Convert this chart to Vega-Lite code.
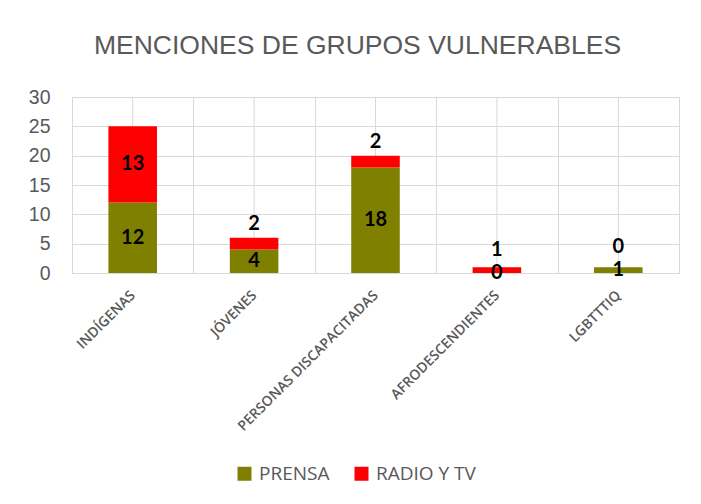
{
  "$schema": "https://vega.github.io/schema/vega-lite/v6.json",
  "width": 607,
  "height": 176,
  "autosize": "none",
  "padding": {"left": 72, "top": 97, "right": 22, "bottom": 231},
  "background": "white",
  "config": {
    "axisY": {
      "title": null,
      "values": [0, 5, 10, 15, 20, 25, 30],
      "labelOverlap": false,
      "grid": true,
      "gridColor": "#d9d9d9",
      "gridWidth": 1,
      "domain": false,
      "ticks": false,
      "labelPadding": 22,
      "labelFont": "Liberation Sans",
      "labelFontSize": 19.5,
      "labelColor": "#595959"
    }
  },
  "title": {
    "text": "MENCIONES DE GRUPOS VULNERABLES",
    "font": "Liberation Sans",
    "fontSize": 26.5,
    "fontWeight": "normal",
    "color": "#595959",
    "anchor": "middle",
    "baseline": "alphabetic",
    "offset": 7,
    "dx": -18
  },
  "data": {
    "values": [
      {"grupo": "INDÍGENAS", "medio": "PRENSA", "valor": 12},
      {"grupo": "INDÍGENAS", "medio": "RADIO Y TV", "valor": 13},
      {"grupo": "JÓVENES", "medio": "PRENSA", "valor": 4},
      {"grupo": "JÓVENES", "medio": "RADIO Y TV", "valor": 2},
      {"grupo": "PERSONAS DISCAPACITADAS", "medio": "PRENSA", "valor": 18},
      {"grupo": "PERSONAS DISCAPACITADAS", "medio": "RADIO Y TV", "valor": 2},
      {"grupo": "AFRODESCENDIENTES", "medio": "PRENSA", "valor": 0},
      {"grupo": "AFRODESCENDIENTES", "medio": "RADIO Y TV", "valor": 1},
      {"grupo": "LGBTTTIQ", "medio": "PRENSA", "valor": 1},
      {"grupo": "LGBTTTIQ", "medio": "RADIO Y TV", "valor": 0}
    ]
  },
  "transform": [
    {"stack": "valor", "groupby": ["grupo"], "sort": [{"field": "medio", "order": "ascending"}], "as": ["y0", "y1"]},
    {"calculate": "(datum.y0 + datum.y1) / 2", "as": "mid"}
  ],
  "encoding": {
    "x": {
      "field": "grupo",
      "type": "nominal",
      "sort": null,
      "scale": {"paddingInner": 0, "paddingOuter": 0},
      "axis": {
        "title": null,
        "grid": true,
        "tickBand": "extent",
        "gridColor": "#d9d9d9",
        "gridWidth": 1,
        "domainColor": "#d9d9d9",
        "domainWidth": 1,
        "ticks": false,
        "labelAngle": -45,
        "labelAlign": "right",
        "labelBaseline": "middle",
        "labelPadding": 20,
        "labelLimit": 400,
        "labelFont": "Open Sans",
        "labelFontSize": 14,
        "labelFontWeight": 600,
        "labelColor": "#595959"
      }
    }
  },
  "layer": [
    {
      "transform": [{"filter": "datum.medio == 'PRENSA'"}],
      "mark": {"type": "rule", "color": "#d9d9d9", "strokeWidth": 1},
      "encoding": {}
    },
    {
      "mark": {"type": "bar", "width": {"band": 0.4}},
      "encoding": {
        "y": {
          "field": "y0",
          "type": "quantitative",
          "title": null,
          "scale": {"domain": [0, 30], "nice": false}
        },
        "y2": {"field": "y1"},
        "color": {
          "field": "medio",
          "type": "nominal",
          "scale": {"domain": ["PRENSA", "RADIO Y TV"], "range": ["#808000", "#FF0000"]},
          "legend": {
            "title": null,
            "orient": "none",
            "direction": "horizontal",
            "legendX": 163,
            "legendY": 367,
            "symbolType": "square",
            "symbolSize": 196,
            "symbolStrokeWidth": 0,
            "symbolOpacity": 1,
            "labelFont": "Open Sans",
            "labelFontSize": 19,
            "labelColor": "#595959",
            "labelOffset": 5,
            "columnPadding": 22
          }
        }
      }
    },
    {
      "transform": [{"filter": "datum.medio == 'PRENSA' || datum.valor >= 5"}],
      "mark": {"type": "text", "font": "Lato", "fontWeight": "bold", "fontSize": 20, "color": "black", "baseline": "middle"},
      "encoding": {
        "y": {"field": "mid", "type": "quantitative", "title": null},
        "text": {"field": "valor", "type": "quantitative"}
      }
    },
    {
      "transform": [{"filter": "datum.medio == 'RADIO Y TV' && datum.valor < 5"}],
      "mark": {"type": "text", "font": "Lato", "fontWeight": "bold", "fontSize": 20, "color": "black", "baseline": "middle", "dy": -20},
      "encoding": {
        "y": {"field": "mid", "type": "quantitative", "title": null},
        "text": {"field": "valor", "type": "quantitative"}
      }
    }
  ]
}
